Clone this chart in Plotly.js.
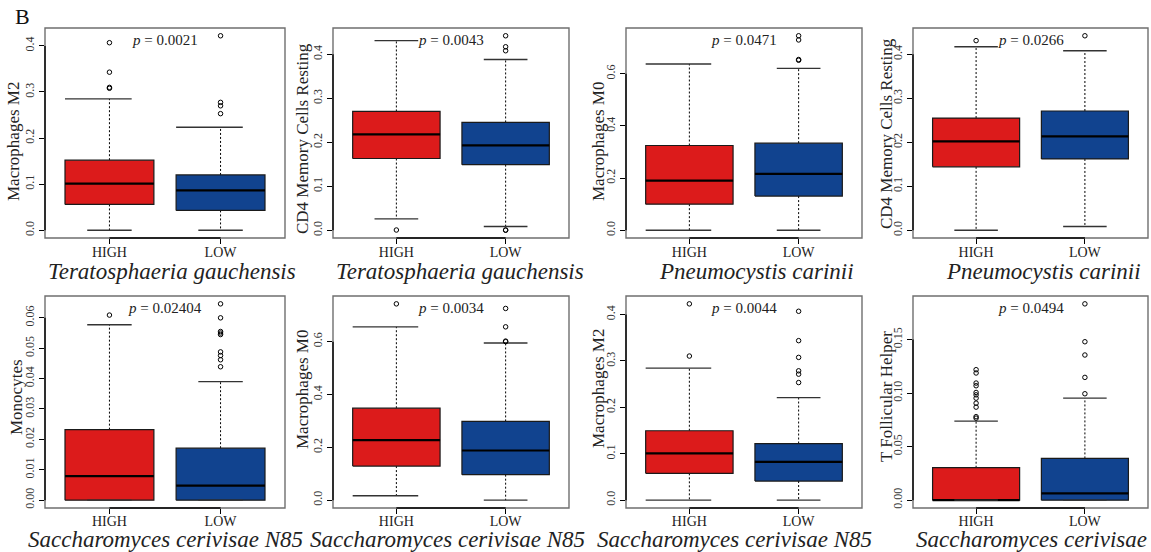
<!DOCTYPE html>
<html>
<head>
<meta charset="utf-8">
<script src="https://cdn.plot.ly/plotly-3.0.1.min.js"></script>
<style>
  html, body { margin: 0; padding: 0; background: #fff; }
  #chart { width: 1151px; height: 552px; }
</style>
</head>
<body>
<div id="chart"></div>
<script>
// ---- data ----------------------------------------------------------------
const groups = ['HIGH', 'LOW'];

const cellTypes = ['Macrophages M2', 'CD4 Memory Cells Resting', 'Macrophages M0', 'CD4 Memory Cells Resting',
                   'Monocytes', 'Macrophages M0', 'Macrophages M2', 'T Follicular Helper'];
const taxa = ['Teratosphaeria gauchensis', 'Teratosphaeria gauchensis', 'Pneumocystis carinii', 'Pneumocystis carinii',
              'Saccharomyces cerivisae N85', 'Saccharomyces cerivisae N85', 'Saccharomyces cerivisae N85', 'Saccharomyces cerivisae'];
const pValues = ['0.0021', '0.0043', '0.0471', '0.0266', '0.02404', '0.0034', '0.0044', '0.0494'];

// five-number summaries (lower whisker, Q1, median, Q3, upper whisker)
const highLower  = [0,      0.0257, 0,     0,      0,      0.0165, 0,      0];
const highQ1     = [0.056,  0.163,  0.100, 0.144,  0,      0.129,  0.0578, 0];
const highMedian = [0.101,  0.218,  0.190, 0.202,  0.0079, 0.227,  0.101,  0];
const highQ3     = [0.152,  0.270,  0.325, 0.255,  0.0232, 0.348,  0.1495, 0.0303];
const highUpper  = [0.285,  0.431,  0.638, 0.417,  0.0577, 0.656,  0.2845, 0.0738];

const lowLower   = [0,      0.0083, 0,     0.0083, 0,      0,      0,      0];
const lowQ1      = [0.043,  0.149,  0.131, 0.162,  0,      0.0964, 0.0412, 0];
const lowMedian  = [0.0865, 0.193,  0.216, 0.2135, 0.0048, 0.188,  0.0823, 0.00625];
const lowQ3      = [0.120,  0.245,  0.334, 0.271,  0.0171, 0.298,  0.122,  0.039];
const lowUpper   = [0.2235, 0.388,  0.621, 0.408,  0.0390, 0.595,  0.221,  0.0953];

const highOutliers = [
  [0.407, 0.343, 0.310, 0.308],
  [0.0005],
  [],
  [0.431],
  [0.0609],
  [0.743],
  [0.423, 0.3105],
  [0.1219, 0.1188, 0.1094, 0.1069, 0.1006, 0.0984, 0.0953, 0.0906, 0.0869, 0.0780, 0.0766]
];
const lowOutliers = [
  [0.422, 0.2775, 0.270, 0.253],
  [0.442, 0.417, 0.408, 0.0005, 0.0],
  [0.746, 0.730, 0.655, 0.652],
  [0.442],
  [0.0646, 0.0600, 0.0555, 0.0550, 0.0545, 0.0488, 0.0476, 0.0462, 0.0439],
  [0.7256, 0.656, 0.602, 0.600],
  [0.407, 0.3437, 0.3076, 0.2787, 0.2715, 0.2534],
  [0.1834, 0.148, 0.1356, 0.1147, 0.0994]
];

const yTicks = [
  [0, 0.1, 0.2, 0.3, 0.4],
  [0, 0.1, 0.2, 0.3, 0.4],
  [0, 0.2, 0.4, 0.6],
  [0, 0.1, 0.2, 0.3, 0.4],
  [0, 0.01, 0.02, 0.03, 0.04, 0.05, 0.06],
  [0, 0.2, 0.4, 0.6],
  [0, 0.1, 0.2, 0.3, 0.4],
  [0, 0.05, 0.10, 0.15]
];
const yTickDigits = [1, 1, 1, 1, 2, 1, 1, 2];

// ---- styling & layout ------------------------------------------------------
const W = 1151, H = 552;
const colLeft  = [45, 333, 626, 913];
const colRight = [285, 569, 862, 1148];
const rowTop    = [28, 296];
const rowBottom = [238, 508];

const fillColors = ['#DC1B1B', '#11438F'];
const serif = 'Liberation Serif, Times New Roman, serif';
const boxHalf = 0.4, stapleHalf = 0.2;

// staples that run out to the box edge on the left: [upper, lower]
const highStapleWide = [[1, 0], [0, 0], [1, 1], [0, 0], [0, 0], [1, 1], [1, 1], [0, 0]];
const lowStapleWide  = [[1, 0], [0, 0], [0, 0], [0, 0], [0, 0], [0, 0], [0, 0], [0, 0]];

// per-panel label nudges (px)
const yTitleDx = [-32, -31, -28, -27, -29, -31, -28, -27];
const yTitleDy = [-9, -6, -9, -1, 5, 12, 13, 5];
const taxonDx  = [7, 9, 12, 13, 0, -4, -10, 1];

const traces = [];
const shapes = [];
const annotations = [];
const layout = {
  width: W, height: H,
  margin: {l: 0, r: 0, t: 0, b: 0},
  paper_bgcolor: '#fff', plot_bgcolor: '#fff',
  showlegend: false,
  font: {family: serif, color: '#111'}
};

function addGroup(g, xa, ya, s) {
  const x = g + 1;
  const fill = fillColors[g];
  const left = x - boxHalf, right = x + boxHalf;
  // whiskers
  traces.push({
    type: 'scatter', mode: 'lines', xaxis: xa, yaxis: ya, hoverinfo: 'skip',
    x: [x, x, null, x, x], y: [s.q3, s.hi, null, s.q1, s.lo],
    line: {color: '#000', width: 1, dash: '2px,2px'}
  });
  // box
  traces.push({
    type: 'scatter', mode: 'lines', xaxis: xa, yaxis: ya, hoverinfo: 'skip',
    x: [left, right, right, left, left], y: [s.q1, s.q1, s.q3, s.q3, s.q1],
    fill: 'toself', fillcolor: fill, line: {color: '#1a1a1a', width: 1.2}
  });
  // median
  traces.push({
    type: 'scatter', mode: 'lines', xaxis: xa, yaxis: ya, hoverinfo: 'skip',
    x: [left, right], y: [s.med, s.med], line: {color: '#000', width: 2.2}
  });
  // staples
  const upL = s.wide[0] ? left : x - stapleHalf;
  const loL = s.wide[1] ? left : x - stapleHalf;
  traces.push({
    type: 'scatter', mode: 'lines', xaxis: xa, yaxis: ya, hoverinfo: 'skip',
    x: [upL, x + stapleHalf, null, loL, x + stapleHalf], y: [s.hi, s.hi, null, s.lo, s.lo],
    line: {color: '#333', width: 1.4}
  });
  // outliers
  if (s.out.length) {
    traces.push({
      type: 'scatter', mode: 'markers', xaxis: xa, yaxis: ya, hoverinfo: 'skip',
      x: s.out.map(() => x), y: s.out,
      marker: {symbol: 'circle-open', size: 4.5, color: '#000', line: {width: 1, color: '#000'}}
    });
  }
}

for (let p = 0; p < 8; p++) {
  const row = Math.floor(p / 4), col = p % 4;
  const n = p === 0 ? '' : String(p + 1);
  const xa = 'x' + n, ya = 'y' + n;

  const high = {lo: highLower[p], q1: highQ1[p], med: highMedian[p], q3: highQ3[p], hi: highUpper[p],
                out: highOutliers[p], wide: highStapleWide[p]};
  const low  = {lo: lowLower[p], q1: lowQ1[p], med: lowMedian[p], q3: lowQ3[p], hi: lowUpper[p],
                out: lowOutliers[p], wide: lowStapleWide[p]};
  addGroup(0, xa, ya, high);
  addGroup(1, xa, ya, low);

  // y range padded by 4% like base graphics
  const all = [high.lo, high.hi, low.lo, low.hi].concat(high.out, low.out);
  const mn = Math.min(...all), mx = Math.max(...all);
  const pad = 0.04 * (mx - mn);

  layout['xaxis' + n] = {
    domain: [colLeft[col] / W, colRight[col] / W],
    anchor: ya, range: [0.42, 2.58],
    tickvals: [1, 2], ticktext: groups,
    ticks: 'outside', ticklen: 5, tickwidth: 1, tickcolor: '#000',
    ticklabelstandoff: row === 0 ? -4 : -5,
    tickfont: {family: serif, size: 14, color: '#222'},
    showline: false, showgrid: false, zeroline: false, fixedrange: true
  };
  layout['yaxis' + n] = {
    domain: [1 - rowBottom[row] / H, 1 - rowTop[row] / H],
    anchor: xa, range: [mn - pad, mx + pad],
    tickvals: yTicks[p], ticktext: yTicks[p].map(v => v.toFixed(yTickDigits[p])),
    tickangle: -90,
    ticks: 'outside', ticklen: 5, tickwidth: 1, tickcolor: '#000',
    tickfont: {family: serif, size: 12, color: '#333'},
    showline: false, showgrid: false, zeroline: false, fixedrange: true
  };

  // frame and axis lines
  shapes.push({type: 'rect', xref: xa + ' domain', yref: ya + ' domain', x0: 0, x1: 1, y0: 0, y1: 1,
               line: {color: '#6f6f6f', width: 1.4}, layer: 'above'});
  shapes.push({type: 'line', xref: xa, yref: ya + ' domain', x0: 1, x1: 2, y0: 0, y1: 0,
               line: {color: '#000', width: 1.4}, layer: 'above'});
  const yt = yTicks[p];
  shapes.push({type: 'line', xref: xa + ' domain', yref: ya, x0: 0, x1: 0, y0: yt[0], y1: yt[yt.length - 1],
               line: {color: '#000', width: 1.4}, layer: 'above'});

  // axis title
  annotations.push({
    xref: xa + ' domain', yref: ya + ' domain', x: 0, y: 0.5,
    xshift: yTitleDx[p], yshift: yTitleDy[p], xanchor: 'center', yanchor: 'middle',
    textangle: -90, showarrow: false, text: cellTypes[p],
    font: {family: serif, size: 17, color: '#222'}
  });
  // taxon label
  annotations.push({
    xref: xa + ' domain', yref: ya + ' domain', x: 0.5, y: 0,
    xshift: taxonDx[p], yshift: row === 0 ? -33 : -31, xanchor: 'center', yanchor: 'middle',
    showarrow: false, text: '<i>' + taxa[p] + '</i>',
    font: {family: serif, size: 23, color: '#222'}
  });
  // p value
  annotations.push({
    xref: xa, yref: ya, x: 1.5, y: mx, yshift: -4, xanchor: 'center', yanchor: 'middle',
    showarrow: false, text: '<i>p</i> = ' + pValues[p],
    font: {family: serif, size: 15, color: '#222'}
  });
}

// panel letter
annotations.push({
  xref: 'paper', yref: 'paper', x: 22 / W, y: 1 - 16 / H, xanchor: 'center', yanchor: 'middle',
  showarrow: false, text: 'B', font: {family: serif, size: 22, color: '#111'}
});

layout.shapes = shapes;
layout.annotations = annotations;

Plotly.newPlot('chart', traces, layout, {staticPlot: true, displayModeBar: false});
</script>
</body>
</html>
